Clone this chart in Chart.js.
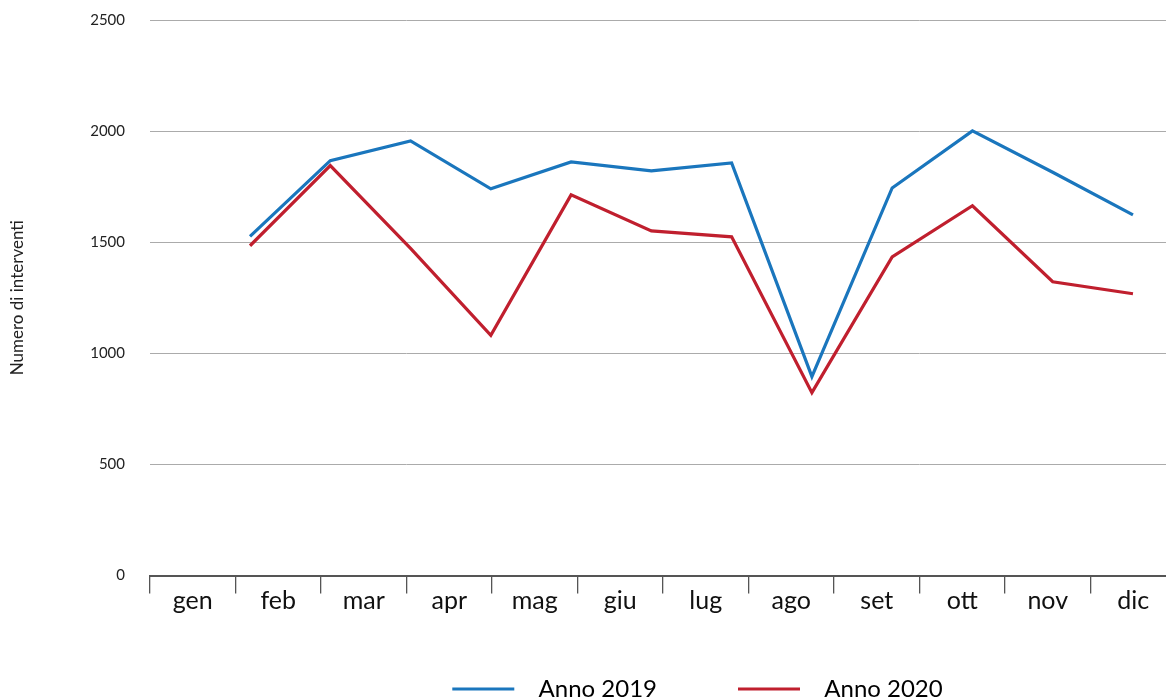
<!DOCTYPE html>
<html>
<head>
<meta charset="utf-8">
<title>Numero di interventi 2019-2020</title>
<script src="https://cdn.jsdelivr.net/npm/chart.js@4.4.0/dist/chart.umd.min.js"></script>
<style>
  html, body { margin: 0; padding: 0; background: #fff; overflow: hidden; }
  #wrap { position: relative; width: 1166px; height: 698px; overflow: hidden; }
</style>
</head>
<body>
<div id="wrap"><canvas id="chart" width="1176" height="741"></canvas></div>
<script>
// Monthly number of interventions
const months = ['gen', 'feb', 'mar', 'apr', 'mag', 'giu', 'lug', 'ago', 'set', 'ott', 'nov', 'dic'];
const anno2019 = [1526, 1867, 1956, 1740, 1861, 1821, 1857, 895, 1744, 2001, 1815, 1623];
const anno2020 = [1484, 1845, 1472, 1081, 1713, 1551, 1524, 823, 1434, 1664, 1322, 1268];
const seriesNames = ['Anno 2019', 'Anno 2020'];
const yTickValues = [0, 500, 1000, 1500, 2000, 2500];
const yTitle = 'Numero di interventi';

const BLUE = '#1a76bd';
const RED = '#c01f2e';
const FONT = 'Lato, "Open Sans", sans-serif';
const LEGEND_SHIFT_X = 109.5;
const LEGEND_SHIFT_Y = -30;

const toPoints = arr => arr.map((v, i) => ({ x: i, y: v }));

// nudges the legend block after Chart.js has laid it out
const legendShift = {
  id: 'legendShift',
  afterLayout(chart) {
    const lg = chart.legend;
    if (!lg) return;
    lg.left += LEGEND_SHIFT_X;
    lg.right += LEGEND_SHIFT_X;
    lg.top += LEGEND_SHIFT_Y;
    lg.bottom += LEGEND_SHIFT_Y;
  }
};

const lineDataset = (label, values, color) => ({
  label,
  data: toPoints(values),
  borderColor: color,
  backgroundColor: color,
  borderWidth: 3.2,
  borderJoinStyle: 'miter',
  borderCapStyle: 'butt',
  pointRadius: 0,
  tension: 0,
  fill: false,
  xAxisID: 'xl',
  yAxisID: 'y'
});

new Chart(document.getElementById('chart'), {
  type: 'line',
  data: {
    labels: months,
    datasets: [
      lineDataset(seriesNames[0], anno2019, BLUE),
      lineDataset(seriesNames[1], anno2020, RED)
    ]
  },
  plugins: [legendShift],
  options: {
    responsive: false,
    animation: false,
    layout: { padding: { top: 20, right: 0, bottom: 0, left: 0 } },
    scales: {
      x: {
        type: 'category',
        position: 'bottom',
        offset: true,
        grid: {
          offset: true,
          drawOnChartArea: false,
          drawTicks: true,
          tickLength: 18,
          color: '#555',
          lineWidth: 1.3
        },
        border: { display: true, color: '#555', width: 2 },
        ticks: {
          font: { family: FONT, size: 25 },
          color: '#111',
          padding: -8,
          maxRotation: 0,
          autoSkip: false
        },
        afterFit: s => { s.height = 50.5; }
      },
      xl: {
        type: 'linear',
        display: false,
        min: -1.246,
        max: 11.536
      },
      y: {
        type: 'linear',
        min: 0,
        max: 2500,
        afterBuildTicks: s => { s.ticks = yTickValues.map(v => ({ value: v })); },
        grid: {
          color: '#ababab',
          lineWidth: 1,
          drawTicks: true,
          tickLength: 25,
          tickColor: 'rgba(0,0,0,0)'
        },
        border: { display: false },
        ticks: {
          font: { family: FONT, size: 15 },
          color: '#222',
          padding: 0,
          callback: v => String(v)
        },
        title: {
          display: true,
          text: yTitle,
          font: { family: FONT, size: 17 },
          color: '#222',
          padding: { top: 7, bottom: 0 }
        },
        afterFit: s => { s.width = 150; }
      }
    },
    plugins: {
      tooltip: { enabled: false },
      legend: {
        position: 'bottom',
        labels: {
          font: { family: FONT, size: 24 },
          color: '#111',
          boxWidth: 62,
          boxHeight: 3,
          padding: 81,
          generateLabels: chart => chart.data.datasets.map((ds, i) => ({
            text: '  ' + ds.label,
            fillStyle: ds.borderColor,
            strokeStyle: ds.borderColor,
            lineWidth: 0,
            hidden: false,
            datasetIndex: i
          }))
        }
      }
    }
  }
});
</script>
</body>
</html>
